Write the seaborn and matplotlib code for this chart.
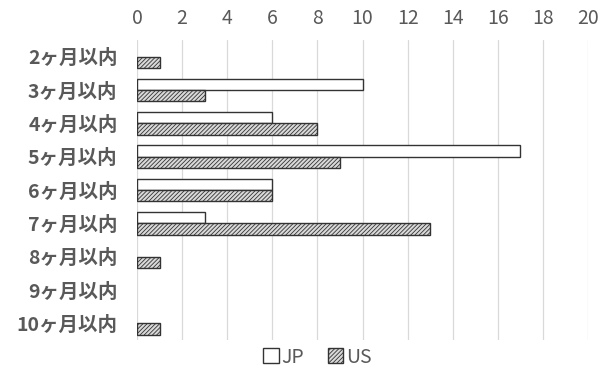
import matplotlib
matplotlib.use("Agg")
import matplotlib.pyplot as plt
from matplotlib.patches import Patch
import seaborn as sns
import pandas as pd

categories = ["2ヶ月以内", "3ヶ月以内", "4ヶ月以内", "5ヶ月以内", "6ヶ月以内",
              "7ヶ月以内", "8ヶ月以内", "9ヶ月以内", "10ヶ月以内"]
jp_values = [0, 10, 6, 17, 6, 3, 0, 0, 0]
us_values = [1, 3, 8, 9, 6, 13, 1, 0, 1]
series_names = ["JP", "US"]
x_ticks = list(range(0, 21, 2))

df = pd.DataFrame({
    "期間": categories * 2,
    "件数": jp_values + us_values,
    "国": [series_names[0]] * len(categories) + [series_names[1]] * len(categories),
})

sns.set_theme(style="white")
plt.rcParams["font.family"] = ["Noto Sans CJK JP", "DejaVu Sans"]
plt.rcParams["hatch.color"] = "#555555"
plt.rcParams["hatch.linewidth"] = 0.6

text_gray = "#595959"
edge = "#333333"
fills = {"JP": "#ffffff", "US": "#d9d9d9"}
hatches = {"JP": "", "US": "////////"}

fig = plt.figure(figsize=(6.08, 3.74), dpi=100)
ax = fig.add_axes([0.2253, 0.091, 0.742, 0.802])

sns.barplot(data=df, y="期間", x="件数", hue="国", order=categories,
            hue_order=series_names, palette=fills, orient="h",
            width=0.68, ax=ax, legend=False, linewidth=1.0, edgecolor=edge)

for container, name in zip(ax.containers, series_names):
    for bar in container:
        bar.set_hatch(hatches[name])
        bar.set_edgecolor(edge)
        if bar.get_width() == 0:
            bar.set_linewidth(0)

ax.set_xlim(0, 20)
ax.set_xticks(x_ticks)
ax.xaxis.tick_top()
ax.tick_params(axis="y", length=0, labelsize=14, colors=text_gray, pad=14)
ax.tick_params(axis="x", length=0, labelsize=14, colors=text_gray, pad=8)
for lbl in ax.get_yticklabels():
    lbl.set_fontweight("bold")
ax.grid(axis="x", color="#d9d9d9", linewidth=0.9)
ax.set_axisbelow(True)
for s in ax.spines.values():
    s.set_visible(False)
ax.set_xlabel("")
ax.set_ylabel("")

handles = [Patch(facecolor=fills[n], edgecolor=edge, hatch=hatches[n], linewidth=1.0)
           for n in series_names]
fig.legend(handles, series_names, loc="center", bbox_to_anchor=(0.522, 0.045),
           ncol=2, frameon=False, fontsize=14, labelcolor=text_gray,
           handlelength=0.8, handleheight=0.8, handletextpad=0.15, columnspacing=1.2)

fig.savefig("out.png", dpi=100)
